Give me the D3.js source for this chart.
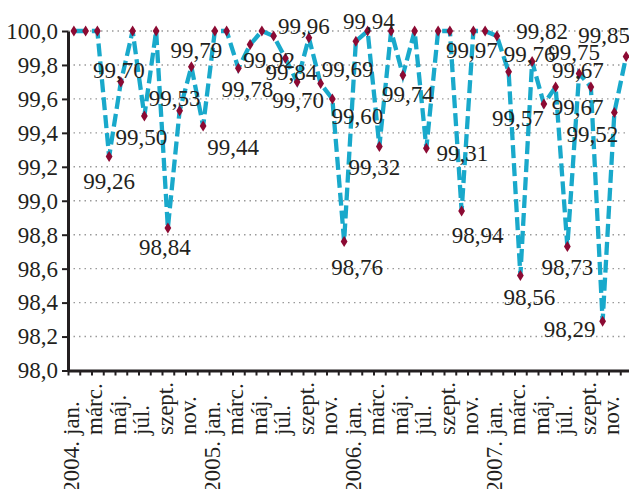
<!DOCTYPE html>
<html>
<head>
<meta charset="utf-8">
<script src="https://cdn.jsdelivr.net/npm/d3@7/dist/d3.min.js"></script>
<style>
  html, body { margin: 0; padding: 0; background: #fff; }
  svg { display: block; font-family: "Liberation Serif", "Times New Roman", serif; }
</style>
</head>
<body>
<svg id="chart"></svg>
<script>
// monthly values 2004 jan. - 2007 dec.
const values = [
  100, 100, 100, 99.26, 99.70, 100, 99.50, 100, 98.84, 99.53, 99.79, 99.44,
  100, 100, 99.78, 99.92, 100, 99.97, 99.84, 99.70, 99.96, 99.69, 99.60, 98.76,
  99.94, 100, 99.32, 100, 99.74, 100, 99.31, 100, 100, 98.94, 100, 100,
  99.97, 99.76, 98.56, 99.82, 99.57, 99.67, 98.73, 99.75, 99.67, 98.29, 99.52, 99.85
];

// tick labels, one every second month
const tickYears = ['2004.', '', '', '', '', '', '2005.', '', '', '', '', '',
                   '2006.', '', '', '', '', '', '2007.', '', '', '', '', ''];
const tickMonths = ['jan.', 'márc.', 'máj.', 'júl.', 'szept.', 'nov.',
                    'jan.', 'márc.', 'máj.', 'júl.', 'szept.', 'nov.',
                    'jan.', 'márc.', 'máj.', 'júl.', 'szept.', 'nov.',
                    'jan.', 'márc.', 'máj.', 'júl.', 'szept.', 'nov.'];

const yTicks = [98.0, 98.2, 98.4, 98.6, 98.8, 99.0, 99.2, 99.4, 99.6, 99.8, 100.0];

// where each data label sits relative to its marker (px)
const labelOffsets = {
  3: [0, 24], 4: [-2, -12], 6: [-3, 21], 8: [-3, 19], 9: [-5, -13], 10: [5, -17],
  11: [30, 21], 14: [9, 20], 15: [19, 15], 18: [6, 14], 19: [1, 18], 20: [-5, -12],
  21: [27, -15], 22: [25, 17], 23: [13, 25], 24: [13, -20], 26: [-5, 20], 28: [5, 19],
  30: [36, 5], 33: [16, 24], 36: [-25, 14], 37: [21, -18], 38: [9, 21], 39: [10, -31],
  40: [-26, 14], 41: [22, 20], 42: [0, 20], 43: [-5, -22], 44: [-13, -17], 45: [-33, 7],
  46: [-22, 21], 47: [-22, -22]
};

const huLocale = d3.formatLocale({decimal: ',', thousands: ' ', grouping: [3], currency: ['', ' Ft']});
const fmt1 = huLocale.format('.1f');
const fmt2 = huLocale.format('.2f');

class LineChart {
  constructor(_config, _data) {
    this.config = {
      parentElement: _config.parentElement,
      containerWidth: _config.containerWidth || 629,
      containerHeight: _config.containerHeight || 489,
      left: 68, right: 632, top: 31, bottom: 370.5
    };
    this.data = _data;
    this.initVis();
  }

  initVis() {
    let vis = this;
    const c = vis.config;

    vis.svg = d3.select(c.parentElement)
        .attr('width', c.containerWidth)
        .attr('height', c.containerHeight);

    vis.xBand = d3.scaleBand()
        .domain(d3.range(vis.data.length))
        .range([c.left, c.right]);

    vis.xEdge = d3.scaleLinear()
        .domain([0, vis.data.length])
        .range([c.left, c.right]);

    vis.yScale = d3.scaleLinear()
        .domain([98, 100])
        .range([c.bottom, c.top]);

    vis.renderVis();
  }

  renderVis() {
    let vis = this;
    const c = vis.config;
    const cx = i => vis.xBand(i) + vis.xBand.bandwidth() / 2;

    // dotted grid
    vis.svg.append('g')
      .selectAll('line')
      .data(yTicks.slice(1))
      .join('line')
        .attr('x1', c.left)
        .attr('x2', c.containerWidth)
        .attr('y1', d => vis.yScale(d))
        .attr('y2', d => vis.yScale(d))
        .attr('stroke', '#9a9a9a')
        .attr('stroke-width', 1.4)
        .attr('stroke-dasharray', '1.5,4');

    // y axis
    const yAxis = vis.svg.append('g')
        .attr('transform', `translate(${c.left},0)`)
        .call(d3.axisLeft(vis.yScale).tickValues(yTicks).tickFormat(fmt1).tickSizeInner(6).tickSizeOuter(0).tickPadding(4));
    yAxis.select('.domain').attr('stroke', '#231f20').attr('stroke-width', 3);
    yAxis.selectAll('.tick line').attr('stroke', '#231f20').attr('stroke-width', 2);
    yAxis.selectAll('.tick text')
        .attr('fill', '#231f20')
        .style('font-size', '23px')
        .style('font-family', '"Liberation Serif", serif');

    // x axis (ticks at month boundaries)
    const xAxis = vis.svg.append('g')
        .attr('transform', `translate(0,${c.bottom})`)
        .call(d3.axisBottom(vis.xEdge).ticks(vis.data.length).tickFormat('').tickSizeInner(5).tickSizeOuter(0));
    xAxis.select('.domain').attr('stroke', '#231f20').attr('stroke-width', 3);
    xAxis.selectAll('.tick line').attr('stroke', '#231f20').attr('stroke-width', 2);

    // rotated month labels, year placed before the month
    const ticks = tickMonths.map((m, i) => ({month: m, year: tickYears[i], i: i * 2}));
    const lab = vis.svg.append('g')
      .selectAll('g')
      .data(ticks)
      .join('g')
        .attr('transform', d => `translate(${cx(d.i) + 5},435) rotate(-90)`);
    lab.append('text')
        .attr('text-anchor', 'start')
        .attr('fill', '#231f20')
        .style('font-size', '23px')
        .text(d => d.month);
    lab.filter(d => d.year !== '')
      .append('text')
        .attr('x', -6)
        .attr('text-anchor', 'end')
        .attr('fill', '#231f20')
        .style('font-size', '23px')
        .text(d => d.year);

    // dashed line
    const line = d3.line()
        .x((d, i) => cx(i))
        .y(d => vis.yScale(d));

    vis.svg.append('path')
        .datum(vis.data)
        .attr('d', line)
        .attr('fill', 'none')
        .attr('stroke', '#19a9cb')
        .attr('stroke-width', 4.3)
        .attr('stroke-dasharray', '13,5');

    // diamond markers
    vis.svg.append('g')
      .selectAll('path')
      .data(vis.data)
      .join('path')
        .attr('transform', (d, i) => `translate(${cx(i)},${vis.yScale(d)})`)
        .attr('d', 'M0,-5.5L3.4,0L0,5.5L-3.4,0Z')
        .attr('fill', '#8c0a33');

    // data labels
    const labelled = vis.data.map((d, i) => ({v: d, i: i})).filter(d => labelOffsets[d.i]);
    vis.svg.append('g')
      .selectAll('text')
      .data(labelled)
      .join('text')
        .attr('x', d => cx(d.i) + labelOffsets[d.i][0])
        .attr('y', d => vis.yScale(d.v) + labelOffsets[d.i][1])
        .attr('dy', '0.36em')
        .attr('text-anchor', 'middle')
        .attr('fill', '#231f20')
        .style('font-size', '23px')
        .text(d => fmt2(d.v));
  }
}

new LineChart({parentElement: '#chart', containerWidth: 629, containerHeight: 489}, values);
</script>
</body>
</html>
